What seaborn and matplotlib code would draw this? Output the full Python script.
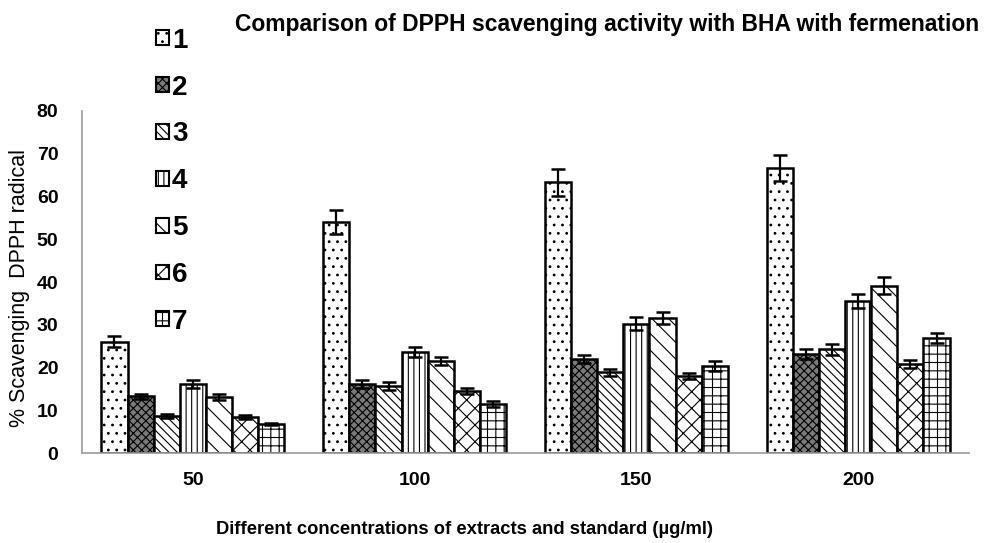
import numpy as np
import pandas as pd
import matplotlib
matplotlib.use("Agg")
import matplotlib.pyplot as plt
import seaborn as sns
from matplotlib.patches import Patch

# concentrations (ug/ml) on the x axis
concentrations = ["50", "100", "150", "200"]
samples = ["1", "2", "3", "4", "5", "6", "7"]

# % scavenging for each sample, one value per concentration
s1 = [26.0, 54.0, 63.3, 66.7]
s2 = [13.3, 16.1, 22.0, 23.2]
s3 = [8.7, 15.7, 18.9, 24.3]
s4 = [16.1, 23.6, 30.2, 35.6]
s5 = [13.1, 21.5, 31.6, 39.1]
s6 = [8.4, 14.5, 18.0, 20.8]
s7 = [6.8, 11.5, 20.4, 26.9]

# error bar half-lengths
e1 = [1.3, 2.8, 3.2, 3.0]
e2 = [0.6, 1.0, 1.0, 1.2]
e3 = [0.4, 1.0, 0.8, 1.3]
e4 = [0.9, 1.2, 1.5, 1.6]
e5 = [0.6, 1.0, 1.5, 2.0]
e6 = [0.4, 0.6, 0.8, 1.0]
e7 = [0.3, 0.7, 1.2, 1.2]

values = [s1, s2, s3, s4, s5, s6, s7]
errors = [e1, e2, e3, e4, e5, e6, e7]

df = pd.DataFrame({
    "conc": concentrations * len(samples),
    "sample": [s for s in samples for _ in concentrations],
    "value": [v for row in values for v in row],
})

# look of each series: fill colour + hatch
fills = ["white", "#7a7a7a", "white", "white", "white", "white", "white"]
hatches = ["..", "xxxx", "\\\\\\\\", "|||", "\\\\", "xx", "++"]

sns.set_style("white")
plt.rcParams["font.family"] = ["Liberation Sans", "DejaVu Sans"]
plt.rcParams["text.color"] = "black"
plt.rcParams["xtick.color"] = "black"
plt.rcParams["ytick.color"] = "black"
plt.rcParams["hatch.linewidth"] = 0.8

fig = plt.figure(figsize=(9.87, 5.43), dpi=100)
ax = fig.add_axes([0.0831, 0.1657, 0.8987, 0.6299])

sns.barplot(data=df, x="conc", y="value", hue="sample", order=concentrations,
            hue_order=samples, palette=["white"] * 7, width=0.825,
            edgecolor="black", linewidth=1.8, errorbar=None, legend=False, ax=ax)

bar_containers = list(ax.containers)
for i, cont in enumerate(bar_containers):
    xs, ys = [], []
    for p in cont.patches:
        p.set_facecolor(fills[i])
        p.set_hatch(hatches[i])
        p.set_edgecolor("black")
        xs.append(p.get_x() + p.get_width() / 2)
        ys.append(p.get_height())
    ax.errorbar(xs, ys, yerr=errors[i], fmt="none", ecolor="black",
                elinewidth=1.6, capsize=5, capthick=1.8, zorder=5)

ax.set_ylim(0, 80)
ax.set_xlim(-0.5, 3.5)
ax.set_yticks(np.arange(0, 81, 10))
ax.set_yticklabels([str(v) for v in range(0, 81, 10)], fontsize=14, fontweight="bold")
ax.set_xticks(range(len(concentrations)))
ax.set_xticklabels(concentrations, fontsize=14, fontweight="bold")
ax.set_xticks(np.arange(-0.5, 3.6, 1), minor=True)
ax.tick_params(axis="x", which="major", length=0, pad=14)
ax.tick_params(axis="x", which="minor", length=6, color="#999999", direction="out")
ax.tick_params(axis="y", length=5, color="#999999", direction="out", pad=12)

for side in ["top", "right"]:
    ax.spines[side].set_visible(False)
for side in ["left", "bottom"]:
    ax.spines[side].set_color("#999999")
    ax.spines[side].set_linewidth(1.2)

ax.set_xlabel("")
ax.set_ylabel("")
fig.text(0.02, 0.47, "% Scavenging  DPPH radical", rotation=90, fontsize=15.5,
         ha="center", va="center")
fig.text(0.471, 0.024, "Different concentrations of extracts and standard (\u00b5g/ml)",
         fontsize=13.2, fontweight="bold", ha="center", va="center")
fig.text(0.615, 0.954, "Comparison of DPPH scavenging activity with BHA with fermenation",
         fontsize=16.5, fontweight="bold", ha="center", va="center")

handles = [Patch(facecolor=fills[i], hatch=hatches[i], edgecolor="black", linewidth=1.5)
           for i in range(len(samples))]
fig.legend(handles, samples, loc="upper left", bbox_to_anchor=(0.133, 0.995),
           frameon=False, prop={"weight": "bold", "size": 20},
           handlelength=0.45, handleheight=0.45, handletextpad=0.12, labelspacing=0.75)

fig.savefig("out.png", dpi=100)
